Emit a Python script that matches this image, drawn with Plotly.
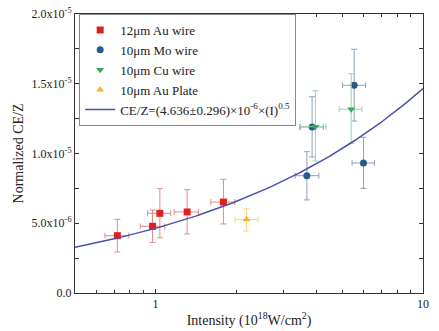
import numpy as np
import plotly.graph_objects as go

# 12um Au wire
au_x = [0.72, 0.975, 1.038, 1.313, 1.794]
au_x_lo = [0.647, 0.877, 0.934, 1.174, 1.61]
au_x_hi = [0.795, 1.083, 1.14, 1.447, 1.98]
au_y = [4.11e-6, 4.78e-6, 5.71e-6, 5.81e-6, 6.52e-6]
au_y_lo = [2.94e-6, 3.63e-6, 3.96e-6, 4.23e-6, 4.95e-6]
au_y_hi = [5.28e-6, 5.95e-6, 7.5e-6, 7.41e-6, 8.15e-6]

# 10um Mo wire
mo_x = [3.68, 5.99, 3.85, 5.53]
mo_x_lo = [3.33, 5.43, 3.46, 5.0]
mo_x_hi = [4.08, 6.58, 4.24, 6.1]
mo_y = [8.41e-6, 9.32e-6, 1.19e-5, 1.489e-5]
mo_y_lo = [6.67e-6, 7.5e-6, 9.75e-6, 1.233e-5]
mo_y_hi = [1.013e-5, 1.116e-5, 1.407e-5, 1.747e-5]

# 10um Cu wire
cu_x = [3.96, 5.39]
cu_x_lo = [3.49, 4.86]
cu_x_hi = [4.34, 5.92]
cu_y = [1.192e-5, 1.317e-5]
cu_y_lo = [9.46e-6, 1.073e-5]
cu_y_hi = [1.45e-5, 1.572e-5]

# 10um Au plate
pl_x = [2.19]
pl_x_lo = [1.98]
pl_x_hi = [2.42]
pl_y = [5.26e-6]
pl_y_lo = [4.44e-6]
pl_y_hi = [6.04e-6]

fit_coef = 4.636e-6
fit_exp = 0.5

y_tickvals = [0, 5e-6, 1e-5, 1.5e-5, 2e-5]
y_ticktext = ["0.0", "5.0x10<sup>-6</sup>", "1.0x10<sup>-5</sup>",
              "1.5x10<sup>-5</sup>", "2.0x10<sup>-5</sup>"]
x_major = [1, 10]
x_minor = [0.6, 0.7, 0.8, 0.9, 2, 3, 4, 5, 6, 7, 8, 9]
y_minor = [2.5e-6, 7.5e-6, 1.25e-5, 1.75e-5]

FONT = "Liberation Serif, Times New Roman, serif"


def series(name, x, xlo, xhi, y, ylo, yhi, symbol, color, ecolor, size):
    return go.Scatter(
        x=x, y=y, mode="markers", name=name,
        marker=dict(symbol=symbol, color=color, size=size),
        error_x=dict(type="data", symmetric=False,
                     array=[h - v for h, v in zip(xhi, x)],
                     arrayminus=[v - l for l, v in zip(xlo, x)],
                     color=ecolor, thickness=1, width=3),
        error_y=dict(type="data", symmetric=False,
                     array=[h - v for h, v in zip(yhi, y)],
                     arrayminus=[v - l for l, v in zip(ylo, y)],
                     color=ecolor, thickness=1, width=3),
    )


fig = go.Figure()
fig.add_trace(series("12μm Au wire", au_x, au_x_lo, au_x_hi, au_y, au_y_lo, au_y_hi,
                     "square", "#e0201f", "#e08a88", 7))
fig.add_trace(series("10μm Mo wire", mo_x, mo_x_lo, mo_x_hi, mo_y, mo_y_lo, mo_y_hi,
                     "circle", "#27598a", "#8ea3b9", 7))
fig.add_trace(series("10μm Cu wire", cu_x, cu_x_lo, cu_x_hi, cu_y, cu_y_lo, cu_y_hi,
                     "triangle-down", "#3aa85c", "#9ad4a8", 7))
fig.add_trace(series("10μm Au Plate", pl_x, pl_x_lo, pl_x_hi, pl_y, pl_y_lo, pl_y_hi,
                     "triangle-up", "#f5b324", "#f5d48a", 7))

fit_x = np.logspace(np.log10(0.5), 1, 200)
fit_y = fit_coef * fit_x ** fit_exp
fig.add_trace(go.Scatter(
    x=fit_x, y=fit_y, mode="lines",
    name="CE/Z=(4.636±0.296)×10<sup>-6</sup>×(I)<sup>0.5</sup>",
    line=dict(color="#4a4fb0", width=1.5),
))

fig.update_layout(
    width=439, height=331,
    margin=dict(l=75, r=16, t=14, b=38),
    paper_bgcolor="white", plot_bgcolor="white",
    font=dict(family=FONT, size=12, color="#222"),
    legend=dict(x=0.012, y=1.0, xanchor="left", yanchor="top",
                bordercolor="#888", borderwidth=1, bgcolor="white",
                font=dict(family=FONT, size=13), tracegroupgap=0,
                itemwidth=30),
    xaxis=dict(type="log", range=[np.log10(0.5), 1], automargin=False,
               tickvals=x_major, ticktext=[str(v) for v in x_major],
               ticks="inside", ticklen=4, tickcolor="#333",
               minor=dict(tickvals=x_minor, ticks="inside", ticklen=3,
                          tickcolor="#333", showgrid=False),
               showline=True, linecolor="#333", linewidth=1, mirror="ticks",
               showgrid=False, zeroline=False,
               tickfont=dict(family=FONT, size=12),
               title=dict(text="Intensity (10<sup>18</sup>W/cm<sup>2</sup>)",
                          font=dict(family=FONT, size=14), standoff=4)),
    yaxis=dict(range=[0, 2e-5], automargin=False,
               tickvals=y_tickvals, ticktext=y_ticktext,
               ticks="inside", ticklen=4, tickcolor="#333",
               minor=dict(tickvals=y_minor, ticks="inside", ticklen=4,
                          tickcolor="#333", showgrid=False),
               showline=True, linecolor="#333", linewidth=1, mirror="ticks",
               showgrid=False, zeroline=False,
               tickfont=dict(family=FONT, size=12),
               title=dict(text="Normalized CE/Z",
                          font=dict(family=FONT, size=14), standoff=4)),
)

fig.write_html("out.html")
